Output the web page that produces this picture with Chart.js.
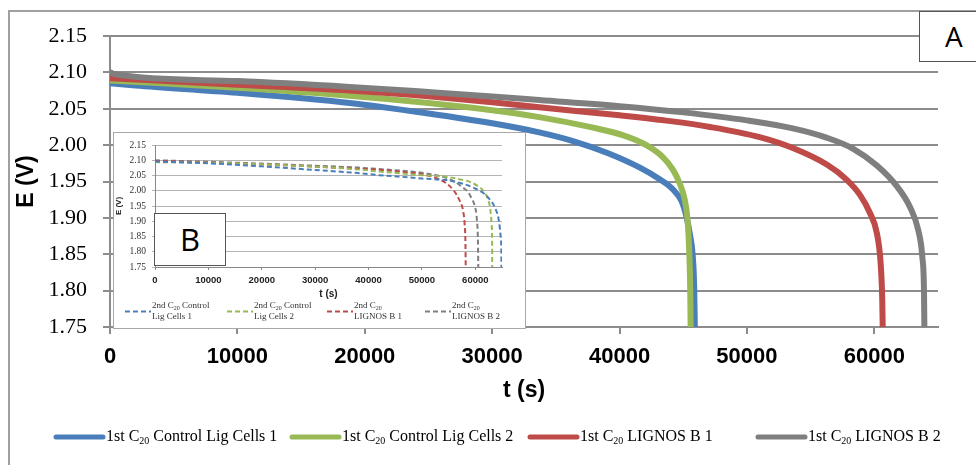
<!DOCTYPE html>
<html>
<head>
<meta charset="utf-8">
<script src="https://cdn.jsdelivr.net/npm/chart.js@4"></script>
<style>
  html, body { margin: 0; padding: 0; background: #fff; overflow: hidden; }
  #wrap { position: relative; width: 976px; height: 465px; }
  #frame { position: absolute; left: 8px; top: 10px; width: 1000px; height: 500px; border: 2px solid #a0a0a0; box-sizing: border-box; }
  #main { position: absolute; left: 0; top: 0; }
  #insetBox { position: absolute; left: 113px; top: 132px; width: 413px; height: 197px; background: #fff; }
  #inset { position: absolute; left: 0; top: 0; }
  #insetBorder { position: absolute; left: 113px; top: 132px; width: 413px; height: 197px; border: 1px solid #a8a8a8; box-sizing: border-box; pointer-events: none; }
  .lbl { position: absolute; background: #fff; border: 1px solid #555; box-sizing: border-box; font-family: "Open Sans", sans-serif; color: #000; text-align: center; }
  #boxA { left: 919px; top: 11px; width: 80px; height: 51px; font-size: 28px; line-height: 49px; text-align: left; padding-left: 25px; }
  #boxB { left: 154px; top: 213px; width: 72px; height: 53px; font-size: 31px; line-height: 51px; }
</style>
</head>
<body>
<div id="wrap">
  <div id="frame"></div>
  <canvas id="main" width="976" height="465"></canvas>
  <div id="insetBox"><canvas id="inset" width="413" height="197"></canvas></div>
  <div id="insetBorder"></div>
  <div class="lbl" id="boxA">A</div>
  <div class="lbl" id="boxB">B</div>
</div>
<script>
// ---------- tick values ----------
const xTicks = [0, 10000, 20000, 30000, 40000, 50000, 60000];
const yTicks = [1.75, 1.80, 1.85, 1.90, 1.95, 2.00, 2.05, 2.10, 2.15];

// ---------- main chart (1st C20) ----------
const mainLabels = ['1st C20 Control Lig Cells 1', '1st C20 Control Lig Cells 2', '1st C20 LIGNOS B 1', '1st C20 LIGNOS B 2'];
const seriesColors = ['#4A7EBB', '#98B954', '#BE4B48', '#7F7F7F'];

const c1T = [0, 2000, 10000, 18800, 25000, 30000, 33700, 36350, 39000, 41600, 43150, 44200, 44870, 45260, 45520, 45730, 45860, 45910];
const c1V = [2.085, 2.082, 2.072, 2.058, 2.0435, 2.030, 2.0175, 2.0055, 1.9895, 1.969, 1.953, 1.939, 1.923, 1.901, 1.878, 1.851, 1.805, 1.750];

const c2T = [0, 10000, 18800, 25000, 30000, 33700, 37650, 40300, 42100, 43400, 44200, 44730, 45130, 45340, 45470, 45550, 45580];
const c2V = [2.089, 2.079, 2.068, 2.058, 2.048, 2.0385, 2.025, 2.0134, 2.000, 1.9836, 1.966, 1.947, 1.924, 1.897, 1.855, 1.800, 1.750];

const l1T = [0, 10000, 18800, 25000, 30000, 33700, 40000, 44000, 47100, 51000, 53600, 56300, 57800, 58900, 59650, 60200, 60500, 60620, 60660];
const l1V = [2.092, 2.083, 2.075, 2.067, 2.059, 2.052, 2.041, 2.033, 2.025, 2.011, 1.996, 1.973, 1.953, 1.931, 1.907, 1.879, 1.837, 1.790, 1.750];

const l2T = [0, 500, 10000, 18800, 25000, 30000, 33700, 40000, 45000, 50000, 53600, 56300, 58350, 60200, 61750, 62800, 63450, 63770, 63900, 63930];
const l2V = [2.100, 2.097, 2.088, 2.080, 2.073, 2.067, 2.062, 2.0535, 2.045, 2.034, 2.023, 2.010, 1.995, 1.972, 1.944, 1.915, 1.883, 1.846, 1.800, 1.750];

// ---------- inset chart (2nd C20) ----------
const insetLabels = [['2nd C20 Control', 'Lig Cells 1'], ['2nd C20 Control', 'Lig Cells 2'], ['2nd C20', 'LIGNOS B 1'], ['2nd C20', 'LIGNOS B 2']];

const d1T = [0, 10000, 20000, 30000, 38000, 42000, 46000, 50000, 54500, 57500, 59900, 61300, 62300, 63600, 64400, 64750, 64880, 64900];
const d1V = [2.096, 2.090, 2.080, 2.068, 2.058, 2.051, 2.046, 2.040, 2.035, 2.024, 2.008, 1.995, 1.980, 1.947, 1.903, 1.850, 1.800, 1.750];

const d2T = [0, 10000, 20000, 30000, 38000, 42000, 46000, 50000, 54500, 57000, 59000, 60500, 61400, 62300, 62800, 63050, 63150, 63170];
const d2V = [2.094, 2.092, 2.087, 2.079, 2.070, 2.063, 2.057, 2.051, 2.046, 2.038, 2.029, 2.015, 2.002, 1.975, 1.940, 1.890, 1.830, 1.750];

const m1T = [0, 10000, 20000, 30000, 38000, 42000, 46000, 50000, 52500, 54500, 56000, 57000, 57700, 58000, 58150, 58200];
const m1V = [2.098, 2.093, 2.087, 2.079, 2.072, 2.069, 2.062, 2.054, 2.043, 2.025, 2.000, 1.970, 1.935, 1.890, 1.830, 1.750];

const m2T = [0, 10000, 20000, 30000, 38000, 42000, 46000, 50000, 53000, 55000, 56500, 57700, 58600, 59300, 59900, 60300, 60500, 60560];
const m2V = [2.100, 2.095, 2.089, 2.082, 2.076, 2.071, 2.066, 2.059, 2.050, 2.039, 2.026, 2.010, 1.997, 1.975, 1.950, 1.905, 1.830, 1.750];

const toPts = (t, v) => t.map((x, i) => ({ x: x, y: v[i] }));

function drawRich(ctx, x, y, text, size, subSize, subDy) {
  const parts = text.split('C20');
  let cx = x;
  parts.forEach((p, i) => {
    if (i > 0) {
      ctx.font = size + 'px "Liberation Serif"';
      ctx.fillText('C', cx, y); cx += ctx.measureText('C').width;
      ctx.font = subSize + 'px "Liberation Serif"';
      ctx.fillText('20', cx, y + subDy); cx += ctx.measureText('20').width;
    }
    ctx.font = size + 'px "Liberation Serif"';
    ctx.fillText(p, cx, y); cx += ctx.measureText(p).width;
  });
}

const mainLegend = {
  id: 'mainLegend',
  afterDraw(chart) {
    const ctx = chart.ctx;
    const lineX = [56, 292, 530, 758];
    const y = 437;
    ctx.save();
    chart.data.datasets.forEach((ds, i) => {
      ctx.strokeStyle = ds.borderColor;
      ctx.lineWidth = 5;
      ctx.lineCap = 'round';
      ctx.beginPath(); ctx.moveTo(lineX[i], y); ctx.lineTo(lineX[i] + 47, y); ctx.stroke();
      ctx.fillStyle = '#000';
      ctx.textBaseline = 'middle';
      ctx.textAlign = 'left';
      drawRich(ctx, lineX[i] + 50, y, ds.label, 16, 10, 4);
    });
    ctx.restore();
  }
};

const insetLegend = {
  id: 'insetLegend',
  afterDraw(chart) {
    const ctx = chart.ctx;
    const lineX = [12, 114, 214, 312];
    const y = 179.5;
    ctx.save();
    chart.data.datasets.forEach((ds, i) => {
      ctx.strokeStyle = ds.borderColor;
      ctx.lineWidth = 2;
      ctx.setLineDash([5, 3]);
      ctx.beginPath(); ctx.moveTo(lineX[i], y); ctx.lineTo(lineX[i] + 26, y); ctx.stroke();
      ctx.setLineDash([]);
      ctx.fillStyle = '#333';
      ctx.textBaseline = 'middle';
      ctx.textAlign = 'left';
      const lines = insetLabels[i];
      drawRich(ctx, lineX[i] + 27, y - 6, lines[0], 9, 6, 2.5);
      drawRich(ctx, lineX[i] + 27, y + 5.5, lines[1], 9, 6, 2.5);
    });
    ctx.restore();
  }
};

function setTicks(vals) { return s => { s.ticks = vals.map(v => ({ value: v })); }; }

// ---------- main chart ----------
new Chart(document.getElementById('main'), {
  type: 'line',
  data: {
    datasets: [
      { label: mainLabels[0], data: toPts(c1T, c1V), borderColor: seriesColors[0], order: 3 },
      { label: mainLabels[1], data: toPts(c2T, c2V), borderColor: seriesColors[1], order: 2 },
      { label: mainLabels[2], data: toPts(l1T, l1V), borderColor: seriesColors[2], order: 1 },
      { label: mainLabels[3], data: toPts(l2T, l2V), borderColor: seriesColors[3], order: 0 }
    ]
  },
  options: {
    responsive: false,
    animation: false,
    events: [],
    layout: { padding: { left: 0, top: 36, right: 38, bottom: 0 } },
    elements: {
      point: { radius: 0 },
      line: { borderWidth: 6, cubicInterpolationMode: 'monotone', fill: false, borderCapStyle: 'butt', borderJoinStyle: 'round' }
    },
    plugins: { legend: { display: false }, tooltip: { enabled: false } },
    scales: {
      x: {
        type: 'linear', min: 0, max: 65000,
        afterBuildTicks: setTicks(xTicks),
        afterFit: s => { s.height = 138; },
        grid: { drawOnChartArea: false, drawTicks: true, tickLength: 7, color: '#8c8c8c', lineWidth: 2 },
        border: { color: '#8c8c8c', width: 2 },
        ticks: { color: '#000', font: { family: '"Liberation Sans"', size: 22, weight: 'bold' }, padding: 10, maxRotation: 0, autoSkip: false, callback: v => String(v) },
        title: { display: true, text: 't (s)', color: '#000', font: { family: '"Liberation Sans"', size: 23, weight: 'bold' }, padding: { top: 0, bottom: 61 } }
      },
      y: {
        min: 1.75, max: 2.15,
        afterBuildTicks: setTicks(yTicks),
        afterFit: s => { s.width = 110; },
        grid: { drawTicks: true, tickLength: 7, color: '#8c8c8c', lineWidth: 2 },
        border: { color: '#8c8c8c', width: 2 },
        ticks: { color: '#000', font: { family: '"Liberation Serif"', size: 22 }, padding: 16, callback: v => Number(v).toFixed(2) },
        title: { display: true, text: 'E (V)', color: '#000', font: { family: '"Liberation Sans"', size: 23, weight: 'bold' }, padding: { top: 13, bottom: 0 } }
      }
    }
  },
  plugins: [mainLegend]
});

// ---------- inset chart ----------
new Chart(document.getElementById('inset'), {
  type: 'line',
  data: {
    datasets: [
      { label: insetLabels[0].join(' '), data: toPts(d1T, d1V), borderColor: seriesColors[0] },
      { label: insetLabels[1].join(' '), data: toPts(d2T, d2V), borderColor: seriesColors[1] },
      { label: insetLabels[2].join(' '), data: toPts(m1T, m1V), borderColor: seriesColors[2] },
      { label: insetLabels[3].join(' '), data: toPts(m2T, m2V), borderColor: seriesColors[3] }
    ]
  },
  options: {
    responsive: false,
    animation: false,
    events: [],
    layout: { padding: { left: 0, top: 13, right: 24, bottom: 0 } },
    elements: {
      point: { radius: 0 },
      line: { borderWidth: 2, borderDash: [5, 3], cubicInterpolationMode: 'monotone', fill: false }
    },
    plugins: { legend: { display: false }, tooltip: { enabled: false } },
    scales: {
      x: {
        type: 'linear', min: 0, max: 65000,
        afterBuildTicks: setTicks(xTicks),
        afterFit: s => { s.height = 62; },
        grid: { drawOnChartArea: false, drawTicks: true, tickLength: 3, color: '#888' },
        border: { color: '#888', width: 1 },
        ticks: { color: '#222', font: { family: '"Liberation Sans"', size: 9.5, weight: 'bold' }, padding: 5, maxRotation: 0, autoSkip: false, callback: v => String(v) },
        title: { display: true, text: 't (s)', color: '#222', font: { family: '"Liberation Sans"', size: 10, weight: 'bold' }, padding: { top: 0, bottom: 29 } }
      },
      y: {
        min: 1.75, max: 2.15,
        afterBuildTicks: setTicks(yTicks),
        afterFit: s => { s.width = 42; },
        grid: { drawTicks: true, tickLength: 3, color: '#b4b4b4', lineWidth: 1 },
        border: { color: '#888', width: 1 },
        ticks: { color: '#333', font: { family: '"Liberation Serif"', size: 9.5 }, padding: 6, callback: v => Number(v).toFixed(2) },
        title: { display: true, text: 'E (V)', color: '#222', font: { family: '"Liberation Sans"', size: 8, weight: 'bold' }, padding: { top: 1, bottom: 0 } }
      }
    }
  },
  plugins: [insetLegend]
});
</script>
</body>
</html>
